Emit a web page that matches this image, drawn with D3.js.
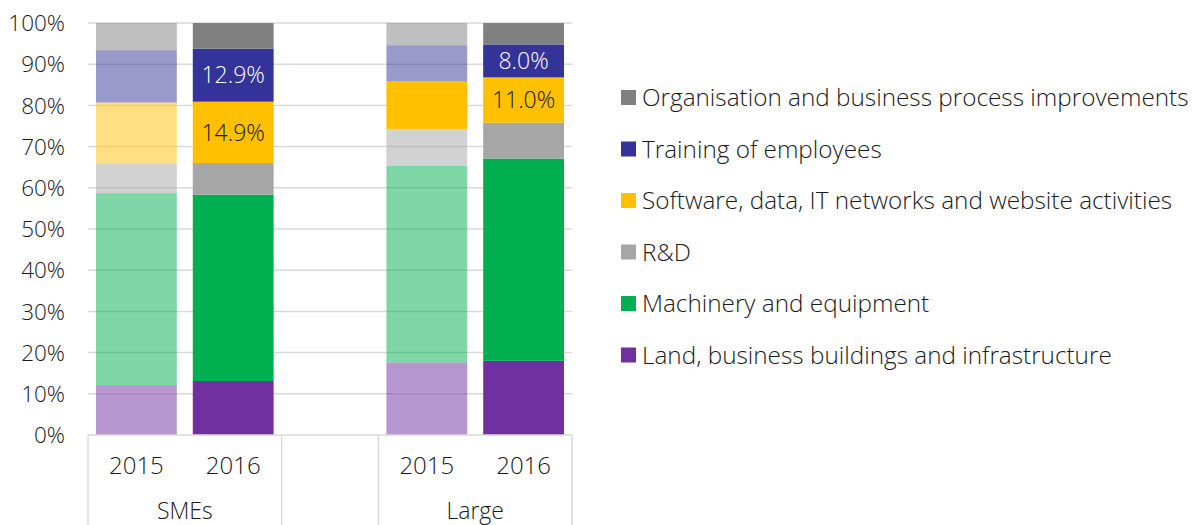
<!DOCTYPE html>
<html lang="en">
<head>
  <meta charset="utf-8"/>
  <title>Investment breakdown – SMEs vs Large</title>
  <script src="https://cdn.jsdelivr.net/npm/d3@7/dist/d3.min.js"></script>
  <style>
    html,body { margin:0; padding:0; background:#fff; overflow:hidden; }
    svg { display:block; font-family:"Open Sans","Lato",sans-serif; font-weight:300; }
    .grid line { stroke:#d9d9d9; stroke-width:1.5; }
    .tick-lbl, .cat-lbl, .leg-lbl { fill:#1a1a1a; }
  </style>
</head>
<body>
<svg width="1201" height="525"></svg>
<script>
// data (shares in %)
const columns = ["SMEs 2015", "SMEs 2016", "gap", "Large 2015", "Large 2016"];
const groups  = ["SMEs", "Large"];
const years   = ["2015", "2016"];
const series  = [
  "Land, business buildings and infrastructure",
  "Machinery and equipment",
  "R&D",
  "Software, data, IT networks and website activities",
  "Training of employees",
  "Organisation and business process improvements"
];
const land      = [12.1, 13.1, 0, 17.6, 18.0];
const machinery = [46.6, 45.2, 0, 47.7, 49.1];
const rnd       = [7.2, 7.7, 0, 9.0, 8.7];
const software  = [14.8, 14.9, 0, 11.6, 11.0];
const training  = [12.7, 12.9, 0, 8.7, 8.0];
const org       = [6.6, 6.2, 0, 5.4, 5.2];
const yTicks    = [0, 10, 20, 30, 40, 50, 60, 70, 80, 90, 100];
const colors    = ["#7030a0", "#00b050", "#a6a6a6", "#ffc000", "#333399", "#808080"];
// labelled segments: [series index, column index, text, text colour]
const labels = [
  [3, 1, "14.9%", "#1a1a1a"], [4, 1, "12.9%", "#fff"],
  [3, 4, "11.0%", "#1a1a1a"], [4, 4, "8.0%",  "#fff"]
];

const svg = d3.select("svg");
const M = {left:88, right:572, top:23, bottom:435};

const table = columns.map((c, i) => ({
  col:c, i,
  [series[0]]:land[i], [series[1]]:machinery[i], [series[2]]:rnd[i],
  [series[3]]:software[i], [series[4]]:training[i], [series[5]]:org[i]
}));
const stacked = d3.stack().keys(series)(table);

const x = d3.scaleBand().domain(columns).range([M.left, M.right]).paddingInner(0.165).paddingOuter(0.0825);
const y = d3.scaleLinear().domain([0, 100]).range([M.bottom, M.top]);

// gridlines
svg.append("g").attr("class","grid")
  .selectAll("line").data(yTicks.filter(t => t > 0)).join("line")
  .attr("x1", M.left).attr("x2", M.right)
  .attr("y1", d => y(d)).attr("y2", d => y(d));

// y tick labels
svg.append("g").selectAll("text").data(yTicks).join("text")
  .attr("class","tick-lbl")
  .attr("x", 65).attr("y", d => y(d))
  .attr("dy", "0.36em")
  .attr("text-anchor","end")
  .style("font-size","22.5px")
  .text(d => d + "%");

// bars (2015 faded, except Large 2015 software)
svg.append("g").selectAll("g").data(stacked).join("g")
  .attr("fill", (d, k) => colors[k])
  .selectAll("rect").data((d, k) => d.map(p => ({p, k}))).join("rect")
  .filter(d => d.p.data.col !== "gap")
  .attr("x", d => x(d.p.data.col))
  .attr("width", x.bandwidth())
  .attr("y", d => y(d.p[1]))
  .attr("height", d => y(d.p[0]) - y(d.p[1]))
  .attr("fill-opacity", d => {
    if (d.p.data.col.endsWith("2016")) return 1;
    if (d.p.data.col === "Large 2015" && d.k === 3) return 1;
    return 0.5;
  });

// data labels
svg.append("g").selectAll("text").data(labels).join("text")
  .attr("x", d => x(columns[d[1]]) + x.bandwidth() / 2)
  .attr("y", d => { const s = stacked[d[0]][d[1]]; return y((s[0] + s[1]) / 2); })
  .attr("dy", "0.36em")
  .attr("text-anchor","middle")
  .attr("fill", d => d[3])
  .style("font-size","23px")
  .text(d => d[2]);

// category axis (box style)
const ax = svg.append("g").attr("stroke","#d9d9d9").attr("stroke-width",1.5);
ax.append("line").attr("x1", M.left).attr("x2", M.right).attr("y1", M.bottom).attr("y2", M.bottom);
const step = x.step();
[0, 2, 3, 5].forEach(k => {
  const xv = M.left + k * step;
  ax.append("line").attr("x1", xv).attr("x2", xv).attr("y1", M.bottom).attr("y2", 525);
});

const yearCols = [0, 1, 3, 4];
svg.append("g").selectAll("text").data(yearCols).join("text")
  .attr("class","cat-lbl")
  .attr("x", i => x(columns[i]) + x.bandwidth() / 2)
  .attr("y", 474)
  .attr("text-anchor","middle")
  .style("font-size","24px")
  .text((i, j) => years[j % 2]);

svg.append("g").selectAll("text").data(groups).join("text")
  .attr("class","cat-lbl")
  .attr("x", (d, j) => M.left + (j === 0 ? 1 : 4) * step)
  .attr("y", 519)
  .attr("text-anchor","middle")
  .style("font-size","23px")
  .text(d => d);

// legend (reverse order)
const leg = svg.append("g").selectAll("g").data(series.slice().reverse()).join("g")
  .attr("transform", (d, i) => `translate(621,${97.5 + i * 51.5})`);
leg.append("rect")
  .attr("x", 0).attr("y", -7.5).attr("width", 15).attr("height", 15)
  .attr("fill", d => colors[series.indexOf(d)]);
leg.append("text")
  .attr("class","leg-lbl")
  .attr("x", 21).attr("dy", "0.36em")
  .style("font-size","24.3px")
  .text(d => d);
</script>
</body>
</html>
